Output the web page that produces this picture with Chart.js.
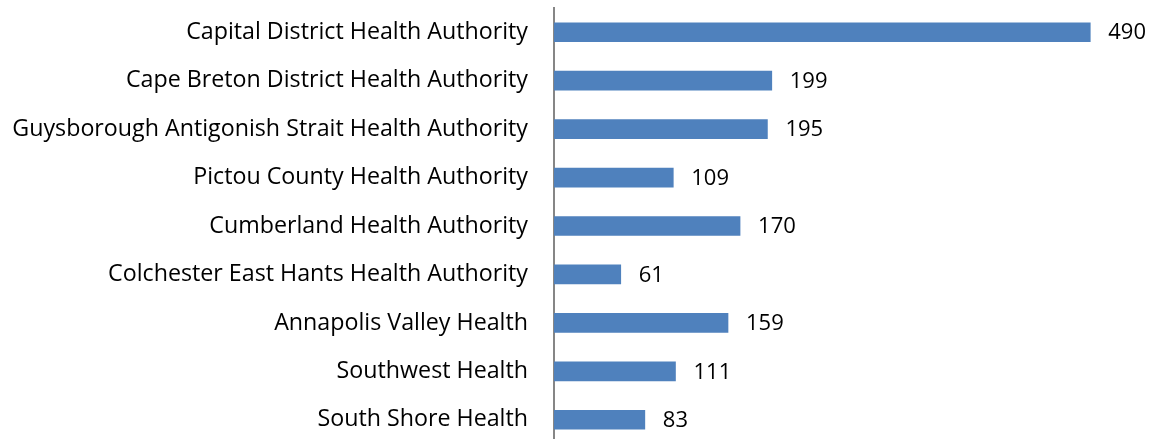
<!DOCTYPE html>
<html>
<head>
<meta charset="utf-8">
<script src="https://cdn.jsdelivr.net/npm/chart.js@4/dist/chart.umd.min.js"></script>
<style>
  html, body { margin: 0; padding: 0; background: #fff; overflow: hidden; }
  #wrap { width: 1152px; height: 446px; }
</style>
</head>
<body>
<div id="wrap"><canvas id="chart"></canvas></div>
<script>
const regions = [
    "Capital District Health Authority",
    "Cape Breton District Health Authority",
    "Guysborough Antigonish Strait Health Authority",
    "Pictou County Health Authority",
    "Cumberland Health Authority",
    "Colchester East Hants Health Authority",
    "Annapolis Valley Health",
    "Southwest Health",
    "South Shore Health"
];
const counts = [490, 199, 195, 109, 170, 61, 159, 111, 83];

const family = "'Open Sans', sans-serif";

// size the category font so the longest name fills the space left of the axis
const probe = document.createElement("canvas").getContext("2d");
probe.font = "20px " + family;
const longest = Math.max(...regions.map(r => probe.measureText(r).width));
const catSize = 20 * 516 / longest;

// write the value just past the end of each bar
const valueLabels = {
    id: "valueLabels",
    afterDatasetsDraw(chart) {
        const ctx = chart.ctx;
        const meta = chart.getDatasetMeta(0);
        ctx.save();
        ctx.font = "22px " + family;
        ctx.fillStyle = "#000";
        ctx.textAlign = "left";
        ctx.textBaseline = "middle";
        meta.data.forEach((bar, i) => {
            ctx.fillText(counts[i], bar.x + 18, bar.y + 1);
        });
        ctx.restore();
    }
};

new Chart(document.getElementById("chart"), {
    type: "bar",
    data: {
        labels: regions,
        datasets: [{
            data: counts,
            backgroundColor: "#4f81bd",
            barThickness: 19
        }]
    },
    options: {
        indexAxis: "y",
        responsive: true,
        maintainAspectRatio: false,
        animation: false,
        layout: { padding: { top: 8, right: 7, bottom: 2, left: 0 } },
        plugins: {
            legend: { display: false },
            tooltip: { enabled: false }
        },
        scales: {
            x: {
                display: false,
                min: 0,
                max: 540
            },
            y: {
                grid: { display: false, drawTicks: false },
                border: { display: true, color: "#868686", width: 2 },
                ticks: {
                    color: "#000",
                    padding: 26,
                    font: { family: family, size: catSize }
                },
                afterFit(scale) {
                    scale.width = 554;
                    scale.paddingTop = 0;
                    scale.paddingBottom = 0;
                }
            }
        }
    },
    plugins: [valueLabels]
});
</script>
</body>
</html>
